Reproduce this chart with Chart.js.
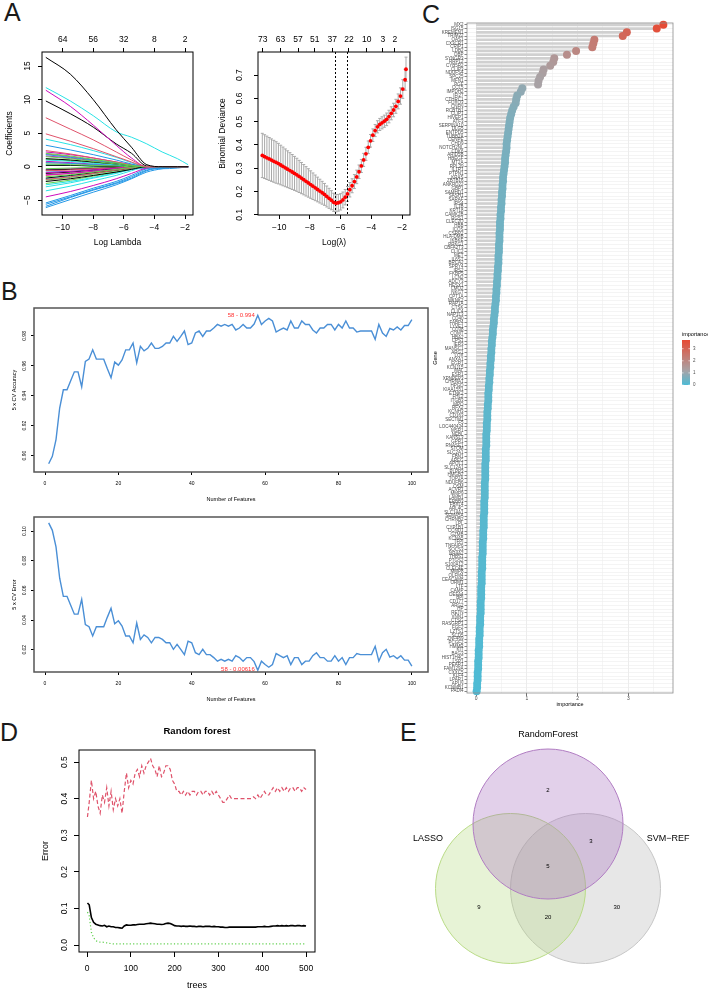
<!DOCTYPE html>
<html>
<head>
<meta charset="utf-8">
<title>Feature selection</title>
<script src="https://cdn.jsdelivr.net/npm/chart.js"></script>
<style>
  html, body { margin: 0; padding: 0; background: #fff; }
  body { position: relative; width: 708px; height: 991px; overflow: hidden; font-family: 'Liberation Sans', Arial, sans-serif; }
  canvas { position: absolute; }
  .tag { position: absolute; font-size: 25px; line-height: 25px; color: #1a1a1a; }
</style>
</head>
<body>
<div class="tag" style="left:4px;top:0px">A</div>
<div class="tag" style="left:1px;top:279px">B</div>
<div class="tag" style="left:422px;top:2px">C</div>
<div class="tag" style="left:0px;top:720px">D</div>
<div class="tag" style="left:400px;top:720px">E</div>

<canvas id="a1" width="200" height="225" style="left:0;top:28px"></canvas>
<canvas id="a2" width="205" height="225" style="left:208px;top:28px"></canvas>
<canvas id="b1" width="432" height="210" style="left:0;top:296px"></canvas>
<canvas id="b2" width="432" height="200" style="left:0;top:505px"></canvas>
<canvas id="c" width="278" height="700" style="left:430px;top:15px"></canvas>
<canvas id="d" width="330" height="276" style="left:0;top:715px"></canvas>
<canvas id="e" width="298" height="271" style="left:410px;top:720px"></canvas>

<script>
// ---------- A left: LASSO coefficient paths ----------
const a1LogLambda = [-11.1, -9.5, -8, -6.5, -5.5, -4.5, -3.5, -2.5, -1.8];
const a1Paths = [
  [16.3, 13.8, 10.0, 5.5, 2.9, 0.3, 0, 0, 0],
  [7.3, 5.6, 4.0, 2.2, 1.0, 0, 0, 0, 0],
  [2.0, 1.6, 1.1, 0.6, 0.2, 0, 0, 0, 0],
  [-5.9, -4.6, -3.5, -2.5, -1.7, -0.6, -0.1, 0, 0],
  [11.8, 9.8, 7.6, 5.2, 4.4, 3.4, 2.2, 1.2, 0.3],
  [11.4, 9.0, 6.2, 3.2, 1.3, 0, 0, 0, 0],
  [9.8, 7.9, 5.9, 3.4, 2.0, 0.1, 0, 0, 0],
  [4.9, 3.8, 2.7, 1.5, 0.7, 0, 0, 0, 0],
  [1.5, 1.2, 0.8, 0.4, 0.1, 0, 0, 0, 0],
  [3.2, 2.5, 1.8, 1.0, 0.4, 0, 0, 0, 0],
  [4.1, 3.3, 2.4, 1.4, 0.6, 0, 0, 0, 0],
  [-4.5, -3.7, -2.8, -1.8, -1.0, -0.2, 0, 0, 0],
  [-2.2, -1.8, -1.3, -0.8, -0.4, 0, 0, 0, 0],
  [2.4, 1.9, 1.3, 0.7, 0.3, 0, 0, 0, 0],
  [-1.5, -1.2, -0.8, -0.4, -0.1, 0, 0, 0, 0],
  [-5.4, -4.3, -3.2, -2.2, -1.3, -0.3, 0, 0, 0],
  [-3.6, -2.9, -2.1, -1.3, -0.6, 0, 0, 0, 0],
  [2.2, 1.8, 1.3, 0.7, 0.3, 0, 0, 0, 0],
  [1.2, 1.0, 0.7, 0.4, 0.1, 0, 0, 0, 0],
  [-1.9, -1.5, -1.0, -0.5, -0.2, 0, 0, 0, 0],
  [0.4, 0.3, 0.2, 0.1, 0, 0, 0, 0, 0],
  [1.8, 1.4, 1.0, 0.5, 0.2, 0, 0, 0, 0],
  [-3.0, -2.4, -1.7, -1.0, -0.4, 0, 0, 0, 0],
  [-0.9, -0.7, -0.5, -0.2, 0, 0, 0, 0, 0],
  [0.2, 0.2, 0.1, 0.05, 0, 0, 0, 0, 0],
  [-0.6, -0.5, -0.3, -0.2, 0, 0, 0, 0, 0],
  [-2.5, -2.0, -1.4, -0.8, -0.3, 0, 0, 0, 0],
  [-6.1, -4.9, -3.8, -2.7, -1.8, -0.8, -0.3, 0, 0],
  [1.0, 0.8, 0.5, 0.3, 0.1, 0, 0, 0, 0],
  [-1.2, -1.0, -0.7, -0.4, -0.1, 0, 0, 0, 0],
  [-1.7, -1.3, -0.9, -0.5, -0.2, 0, 0, 0, 0],
  [1.9, 1.5, 1.0, 0.5, 0.2, 0, 0, 0, 0],
  [-0.3, -0.2, -0.1, 0, 0, 0, 0, 0, 0],
  [0.6, 0.5, 0.3, 0.2, 0, 0, 0, 0, 0],
  [-2.7, -2.2, -1.6, -0.9, -0.4, 0, 0, 0, 0],
  [0.8, 0.6, 0.4, 0.2, 0, 0, 0, 0, 0],
  [-0.5, -0.4, -0.3, -0.1, 0, 0, 0, 0, 0],
  [0.6, 0.5, 0.3, 0.1, 0, 0, 0, 0, 0],
  [-2.0, -1.6, -1.1, -0.6, -0.2, 0, 0, 0, 0],
  [-5.6, -4.5, -3.4, -2.4, -1.5, -0.5, -0.2, 0, 0],
  [0.3, 0.2, 0.1, 0, 0, 0, 0, 0, 0],
  [-0.4, -0.3, -0.2, 0, 0, 0, 0, 0, 0],
  [-1.0, -0.8, -0.5, -0.3, 0, 0, 0, 0, 0],
  [-1.3, -1.0, -0.7, -0.4, -0.1, 0, 0, 0, 0],
  [1.1, 0.9, 0.6, 0.3, 0.1, 0, 0, 0, 0],
  [-0.8, -0.7, -0.5, -0.4, -0.3, -0.3, -0.3, -0.2, 0],
  [-1.8, -1.4, -1.0, -0.6, -0.2, 0, 0, 0, 0],
  [1.6, 1.3, 0.9, 0.5, 0.2, 0, 0, 0, 0]
];
const a1TopAt = [-10, -8, -6, -4, -2];
const a1TopCount = ['64', '56', '32', '8', '2'];

// ---------- A right: cross-validated binomial deviance ----------
const a2LogLambda = [
  -11.10, -10.95, -10.80, -10.65, -10.50, -10.35, -10.20, -10.05, -9.90, -9.75,
  -9.60, -9.45, -9.30, -9.15, -9.00, -8.85, -8.70, -8.55, -8.40, -8.25,
  -8.10, -7.95, -7.80, -7.65, -7.50, -7.35, -7.20, -7.05, -6.90, -6.75,
  -6.60, -6.45, -6.30, -6.15, -6.00, -5.85, -5.70, -5.55, -5.40, -5.25,
  -5.10, -4.95, -4.80, -4.65, -4.50, -4.35, -4.20, -4.05, -3.90, -3.75,
  -3.60, -3.45, -3.30, -3.15, -3.00, -2.85, -2.70, -2.55, -2.40, -2.25,
  -2.10, -1.95, -1.80, -1.74
];
const a2Deviance = [
  0.355, 0.350, 0.345, 0.340, 0.335, 0.330, 0.325, 0.320, 0.314, 0.308,
  0.302, 0.296, 0.290, 0.284, 0.278, 0.272, 0.265, 0.258, 0.251, 0.244,
  0.237, 0.230, 0.223, 0.216, 0.209, 0.202, 0.195, 0.188, 0.179, 0.171,
  0.163, 0.154, 0.150, 0.152, 0.156, 0.164, 0.176, 0.190, 0.208, 0.225,
  0.243, 0.263, 0.285, 0.310, 0.336, 0.362, 0.390, 0.418, 0.442, 0.462,
  0.478, 0.488, 0.495, 0.502, 0.510, 0.522, 0.536, 0.550, 0.566, 0.587,
  0.610, 0.640, 0.680, 0.725
];
const a2Se = [
  0.095, 0.094, 0.093, 0.092, 0.091, 0.090, 0.089, 0.087, 0.085, 0.083,
  0.081, 0.079, 0.077, 0.075, 0.073, 0.071, 0.069, 0.067, 0.065, 0.063,
  0.061, 0.059, 0.057, 0.055, 0.053, 0.051, 0.049, 0.047, 0.045, 0.043,
  0.041, 0.039, 0.037, 0.036, 0.035, 0.034, 0.033, 0.032, 0.031, 0.030,
  0.030, 0.029, 0.029, 0.028, 0.028, 0.028, 0.027, 0.027, 0.027, 0.026,
  0.026, 0.026, 0.026, 0.026, 0.027, 0.027, 0.028, 0.029, 0.030, 0.032,
  0.035, 0.040, 0.045, 0.052
];
const a2TopAt = [-11.07, -9.91, -8.77, -7.69, -6.54, -5.46, -4.30, -3.25, -2.46];
const a2TopCount = ['73', '63', '57', '51', '37', '22', '10', '3', '2'];
const a2LambdaMin = -6.35;
const a2Lambda1se = -5.6;

// ---------- B: SVM-RFE, 5 x CV ----------
const bFeatures = [
  1, 2, 3, 4, 5, 6, 7, 8, 9, 10, 11, 12, 13, 14, 15, 16, 17, 18, 19, 20,
  21, 22, 23, 24, 25, 26, 27, 28, 29, 30, 31, 32, 33, 34, 35, 36, 37, 38, 39, 40,
  41, 42, 43, 44, 45, 46, 47, 48, 49, 50, 51, 52, 53, 54, 55, 56, 57, 58, 59, 60,
  61, 62, 63, 64, 65, 66, 67, 68, 69, 70, 71, 72, 73, 74, 75, 76, 77, 78, 79, 80,
  81, 82, 83, 84, 85, 86, 87, 88, 89, 90, 91, 92, 93, 94, 95, 96, 97, 98, 99, 100
];
const bAccuracy = [
  0.8945, 0.8995, 0.9107, 0.9318, 0.944, 0.944, 0.950, 0.956, 0.956, 0.946,
  0.963, 0.9645, 0.9707, 0.9645, 0.9645, 0.9645, 0.958, 0.952, 0.9625, 0.9605,
  0.964, 0.9707, 0.9707, 0.9753, 0.962, 0.973, 0.970, 0.9717, 0.9753, 0.9717,
  0.9717, 0.973, 0.9753, 0.9753, 0.9797, 0.9764, 0.9797, 0.9833, 0.9742, 0.9753,
  0.982, 0.9833, 0.9797, 0.9833, 0.9833, 0.9853, 0.9877, 0.9865, 0.9877, 0.9865,
  0.9877, 0.984, 0.9853, 0.9877, 0.9853, 0.9853, 0.988, 0.99384, 0.9877, 0.990,
  0.9918, 0.990, 0.9826, 0.984, 0.9853, 0.984, 0.990, 0.9853, 0.9853, 0.990,
  0.9877, 0.9877, 0.984, 0.982, 0.9853, 0.9853, 0.9877, 0.9877, 0.984, 0.9877,
  0.9853, 0.990, 0.9853, 0.9853, 0.9826, 0.9833, 0.9833, 0.9833, 0.9833, 0.9777,
  0.9877, 0.982, 0.9797, 0.985, 0.984, 0.986, 0.984, 0.987, 0.987, 0.991
];
const bError = [
  0.1055, 0.1005, 0.0893, 0.0682, 0.056, 0.056, 0.050, 0.044, 0.044, 0.054,
  0.037, 0.0355, 0.0293, 0.0355, 0.0355, 0.0355, 0.042, 0.048, 0.0375, 0.0395,
  0.036, 0.0293, 0.0293, 0.0247, 0.038, 0.027, 0.030, 0.0283, 0.0247, 0.0283,
  0.0283, 0.027, 0.0247, 0.0247, 0.0203, 0.0236, 0.0203, 0.0167, 0.0258, 0.0247,
  0.018, 0.0167, 0.0203, 0.0167, 0.0167, 0.0147, 0.0123, 0.0135, 0.0123, 0.0135,
  0.0123, 0.016, 0.0147, 0.0123, 0.0147, 0.0147, 0.012, 0.00616, 0.0123, 0.010,
  0.0082, 0.010, 0.0174, 0.016, 0.0147, 0.016, 0.010, 0.0147, 0.0147, 0.010,
  0.0123, 0.0123, 0.016, 0.018, 0.0147, 0.0147, 0.0123, 0.0123, 0.016, 0.0123,
  0.0147, 0.010, 0.0147, 0.0147, 0.0174, 0.0167, 0.0167, 0.0167, 0.0167, 0.0223,
  0.0123, 0.018, 0.0203, 0.015, 0.016, 0.014, 0.016, 0.013, 0.013, 0.009
];
const bBest = 58;

// ---------- C: random forest gene importance ----------
const cGenes = [
  'MX2', 'ISG15', 'KREMEN1', 'TRIM22', 'OAS1', 'CX3CR1', 'CRIP1', 'LDB2', 'DBP', 'SYNGR3',
  'RRP12', 'CYB5R2', 'CLIP3', 'NDUFS4', 'SPC25', 'MFN1', 'PGF', 'CCL5', 'IMPDH2', 'IFI27',
  'CTHRC1', 'FOXO3', 'CNFN', 'RCBTB1', 'CLIP1', 'HIVEP1', 'ATF3', 'SERPINA10', 'DLG5', 'ENTPD5',
  'TUBB2A', 'CENPE', 'CHD9', 'NOTCH2NL', 'CDK6', 'ARID5B', 'HBEGF', 'MT2A', 'RPL39', 'IL1R1',
  'PTPN1', 'KRAS', 'ZBTB16', 'ANKRD22', 'GBP1', 'SAMHD1', 'SASH1', 'SARAF', 'IRS4', 'IL1B',
  'KRT18', 'CAMK2B', 'RGS1', 'CLEC2D', 'HBB', 'ICOS', 'CSRP2', 'HLA-DMB', 'IKBKE', 'PRKG1',
  'CBFA2T3', 'CLIC2', 'MET', 'IL6ST', 'BRCA2', 'SPRY4', 'IRS2', 'FKBP5', 'LCN2', 'ADCY3',
  'HESX1', 'LMO2', 'NKG7', 'CPT1A', 'MKNK2', 'RAP1A', 'CTSK', 'CLIC4', 'NAP1L3', 'CD40',
  'FABP4', 'LYVE1', 'CD38', 'COMT', 'HBA2', 'CPS1', 'IER3', 'MANSC1', 'ARG1', 'LOX',
  'ANXA1', 'EGR1', 'KCNJ15', 'MAL', 'ESR1', 'XPNPEP3', 'CHRNA1', 'HPGD', 'KIAA1551', 'ETNK2',
  'FHL2', 'ITGB3', 'MPO', 'RFX2', 'KCNH3', 'CD163', 'SECTM1', 'F5', 'LOC440434', 'MSR1',
  'NEBL', 'KANSL3', 'GPR1', 'RNASE1', 'STOM', 'SLC2A1', 'FBN1', 'AREG', 'APOL1', 'SLC12A1',
  'PLPP3', 'HMGB2', 'TOP2A', 'NDUFB6', 'OSM', 'ACVR1', 'MMP9', 'LAMB1', 'ERBB3', 'FBXL4',
  'ARL4C', 'SLC14A1', 'SEMA5A', 'CHRNB2', 'LPL', 'CYP1B1', 'CCND1', 'GZMB', 'KCNA5', 'TFPI',
  'TNFAIP6', 'SOCS3', 'NR4A2', 'THBS1', 'PTGS2', 'S100A12', 'CLEC4E', 'MMP8', 'OLFM4', 'CEACAM8',
  'ORM1', 'LTF', 'CAMP', 'DEFA4', 'BPI', 'CD177', 'ARG2', 'HP', 'RETN', 'VNN1',
  'CTSG', 'RASGRP1', 'FGF2', 'LZTS1', 'SCD5', 'ZNF469', 'PCGF2', 'HMMR', 'KIT', 'BAG3',
  'HIST1H4C', 'LSP1', 'PEAR1', 'FAM129A', 'CXXC5', 'KLF4', 'LPAR1', 'APLN', 'KCNMB1', 'PADI4'
];
const cImportance = [
  3.69, 3.56, 2.97, 2.89, 2.33, 2.31, 2.29, 1.97, 1.79, 1.54,
  1.52, 1.46, 1.33, 1.31, 1.26, 1.23, 1.22, 0.91, 0.88, 0.81,
  0.79, 0.78, 0.74, 0.71, 0.69, 0.67, 0.66, 0.65, 0.64, 0.63,
  0.62, 0.61, 0.60, 0.60, 0.59, 0.58, 0.57, 0.57, 0.56, 0.55,
  0.54, 0.53, 0.53, 0.52, 0.52, 0.51, 0.51, 0.50, 0.50, 0.49,
  0.49, 0.48, 0.48, 0.47, 0.47, 0.47, 0.46, 0.46, 0.46, 0.45,
  0.45, 0.45, 0.44, 0.44, 0.44, 0.43, 0.43, 0.42, 0.42, 0.41,
  0.41, 0.40, 0.40, 0.39, 0.39, 0.38, 0.37, 0.37, 0.36, 0.35,
  0.35, 0.34, 0.33, 0.33, 0.32, 0.31, 0.31, 0.30, 0.30, 0.29,
  0.29, 0.28, 0.28, 0.27, 0.27, 0.26, 0.26, 0.25, 0.25, 0.24,
  0.24, 0.24, 0.23, 0.23, 0.22, 0.22, 0.22, 0.21, 0.21, 0.21,
  0.20, 0.20, 0.20, 0.20, 0.19, 0.19, 0.19, 0.19, 0.18, 0.18,
  0.18, 0.18, 0.18, 0.17, 0.17, 0.17, 0.17, 0.17, 0.16, 0.16,
  0.16, 0.16, 0.15, 0.15, 0.15, 0.15, 0.14, 0.14, 0.14, 0.13,
  0.13, 0.13, 0.13, 0.12, 0.12, 0.12, 0.12, 0.11, 0.11, 0.11,
  0.11, 0.10, 0.10, 0.10, 0.10, 0.09, 0.09, 0.09, 0.09, 0.08,
  0.08, 0.08, 0.07, 0.07, 0.07, 0.06, 0.06, 0.06, 0.05, 0.05,
  0.05, 0.04, 0.04, 0.04, 0.03, 0.03, 0.03, 0.02, 0.02, 0.01
];

// ---------- D: random forest error vs trees ----------
const dTrees = [
  1, 5, 10, 15, 20, 25, 30, 35, 40, 45, 50, 55, 60, 65, 70, 75, 80, 85, 90, 95, 100,
  105, 110, 115, 120, 125, 130, 135, 140, 145, 150, 155, 160, 165, 170, 175, 180, 185, 190, 195, 200,
  205, 210, 215, 220, 225, 230, 235, 240, 245, 250, 255, 260, 265, 270, 275, 280, 285, 290, 295, 300,
  305, 310, 315, 320, 325, 330, 335, 340, 345, 350, 355, 360, 365, 370, 375, 380, 385, 390, 395, 400,
  405, 410, 415, 420, 425, 430, 435, 440, 445, 450, 455, 460, 465, 470, 475, 480, 485, 490, 495, 500
];
const dOOB = [
  0.115,
  0.110, 0.075, 0.062, 0.057, 0.055, 0.053, 0.052, 0.054, 0.050, 0.052,
  0.050, 0.050, 0.048, 0.048, 0.047, 0.046, 0.052, 0.055, 0.054, 0.054,
  0.055, 0.055, 0.056, 0.057, 0.057, 0.057, 0.058, 0.059, 0.060, 0.059,
  0.058, 0.057, 0.057, 0.056, 0.057, 0.059, 0.060, 0.059, 0.056, 0.053,
  0.052, 0.052, 0.051, 0.052, 0.051, 0.051, 0.052, 0.051, 0.051, 0.050,
  0.051, 0.051, 0.050, 0.051, 0.051, 0.051, 0.050, 0.051, 0.050, 0.050,
  0.049, 0.049, 0.048, 0.048, 0.049, 0.049, 0.049, 0.049, 0.049, 0.049,
  0.049, 0.049, 0.049, 0.049, 0.049, 0.049, 0.049, 0.050, 0.050, 0.050,
  0.051, 0.050, 0.050, 0.051, 0.052, 0.052, 0.053, 0.052, 0.053, 0.052,
  0.053, 0.052, 0.053, 0.053, 0.052, 0.053, 0.053, 0.052, 0.053, 0.052
];
const dErrPos = [
  0.35,
  0.39, 0.45, 0.40, 0.42, 0.38, 0.36, 0.41, 0.39, 0.43, 0.38,
  0.42, 0.37, 0.40, 0.38, 0.40, 0.36, 0.42, 0.47, 0.43, 0.45,
  0.44, 0.47, 0.48, 0.46, 0.49, 0.47, 0.49, 0.50, 0.51, 0.49,
  0.48, 0.46, 0.49, 0.46, 0.47, 0.49, 0.49, 0.48, 0.45, 0.44,
  0.42, 0.42, 0.41, 0.42, 0.41, 0.42, 0.41, 0.42, 0.42, 0.41,
  0.42, 0.42, 0.41, 0.42, 0.42, 0.41, 0.42, 0.41, 0.42, 0.41,
  0.40, 0.39, 0.39, 0.40, 0.41, 0.40, 0.40, 0.40, 0.40, 0.40,
  0.40, 0.40, 0.40, 0.40, 0.40, 0.405, 0.40, 0.41, 0.40, 0.41,
  0.42, 0.41, 0.41, 0.42, 0.43, 0.42, 0.43, 0.42, 0.43, 0.42,
  0.43, 0.42, 0.43, 0.43, 0.42, 0.43, 0.43, 0.42, 0.43, 0.425
];
const dErrNeg = [
  0.090,
  0.080, 0.035, 0.020, 0.012, 0.009, 0.008, 0.008, 0.007, 0.006, 0.005,
  0.004, 0.003, 0.003, 0.003, 0.003, 0.003, 0.003, 0.003, 0.003, 0.003,
  0.003, 0.003, 0.003, 0.003, 0.003, 0.003, 0.003, 0.003, 0.003, 0.003,
  0.003, 0.003, 0.003, 0.003, 0.003, 0.003, 0.003, 0.003, 0.003, 0.003,
  0.003, 0.003, 0.003, 0.003, 0.003, 0.003, 0.003, 0.003, 0.003, 0.003,
  0.003, 0.003, 0.003, 0.003, 0.003, 0.003, 0.003, 0.003, 0.003, 0.003,
  0.003, 0.003, 0.003, 0.003, 0.003, 0.003, 0.003, 0.003, 0.003, 0.003,
  0.003, 0.003, 0.003, 0.003, 0.003, 0.003, 0.003, 0.003, 0.003, 0.003,
  0.003, 0.003, 0.003, 0.003, 0.003, 0.003, 0.003, 0.003, 0.003, 0.003,
  0.003, 0.003, 0.003, 0.003, 0.003, 0.003, 0.003, 0.003, 0.003, 0.003
];

// ---------- E: overlap of the three methods ----------
const eSets = ['RandomForest', 'LASSO', 'SVM\u2212REF'];
const eRegionCounts = [2, 3, 5, 9, 20, 30]; // RF only, RF&SVM, all three, LASSO only, LASSO&SVM, SVM only

// ---------- shared setup ----------
const FF = "'Liberation Sans', Arial, sans-serif";
Chart.defaults.font.family = FF;
Chart.defaults.color = '#000';
Chart.defaults.animation = false;
Chart.defaults.events = [];
Chart.defaults.responsive = false;
Chart.defaults.layout.autoPadding = false;
Chart.defaults.plugins.legend.display = false;
Chart.defaults.plugins.tooltip.enabled = false;

const rPal = ['#000000', '#DF536B', '#61D04F', '#2297E6', '#28E2E5', '#CD0BBC'];

function fmtInt(v) { return String(Math.round(v * 1000) / 1000).replace('-', '\u2212'); }
function isWhole(v) { return Math.abs(v - Math.round(v)) < 1e-9; }

// blue -> grey -> red, like the ggplot gradient in C
function impColor(v) {
  const lo = [77, 187, 213], mid = [168, 163, 166], hi = [230, 75, 53];
  const m = 1.2, M = 3.7;
  let a, b, t;
  if (v <= m) { a = lo; b = mid; t = v / m; } else { a = mid; b = hi; t = Math.min(1, (v - m) / (M - m)); }
  const c = a.map((x, i) => Math.round(x + (b[i] - x) * t));
  return 'rgb(' + c.join(',') + ')';
}

// base R style axis: ticks outside, no grid
function rAxis(o) {
  const rot = o.rot || 0;
  return {
    type: 'linear',
    position: o.position || (o.vertical ? 'left' : 'bottom'),
    min: o.min, max: o.max,
    afterBuildTicks: o.at ? (s => { s.ticks = o.at.map(v => ({ value: v })); }) : undefined,
    ticks: {
      stepSize: o.step, includeBounds: false, font: { size: o.fs }, color: '#000',
      padding: o.pad, callback: o.fmt, minRotation: rot, maxRotation: rot,
      crossAlign: rot ? 'center' : 'near'
    },
    grid: { drawOnChartArea: false, drawTicks: true, tickLength: o.tl, color: '#000', lineWidth: 1 },
    border: { display: false },
    title: o.title ? { display: true, text: o.title, font: { size: o.tfs }, color: '#000', padding: o.tpad } : { display: false },
    afterFit: s => { if (s.isHorizontal()) s.height = o.size; else s.width = o.size; }
  };
}

const boxPlugin = {
  id: 'rbox',
  afterDatasetsDraw(chart, args, o) {
    if (!o.color) return;
    const a = chart.chartArea, c = chart.ctx;
    c.save();
    c.strokeStyle = o.color;
    c.lineWidth = o.width || 1;
    c.strokeRect(a.left, a.top, a.right - a.left, a.bottom - a.top);
    c.restore();
  }
};

const errBarPlugin = {
  id: 'errbars',
  beforeDatasetsDraw(chart) {
    const c = chart.ctx, ys = chart.scales.y;
    chart.data.datasets.forEach((ds, i) => {
      if (!ds.errSe) return;
      const meta = chart.getDatasetMeta(i);
      c.save();
      c.strokeStyle = '#A9A9A9';
      c.lineWidth = 1;
      meta.data.forEach((pt, j) => {
        const v = ds.data[j].y, e = ds.errSe[j];
        const y1 = ys.getPixelForValue(v + e), y2 = ys.getPixelForValue(v - e);
        c.beginPath();
        c.moveTo(pt.x, y1); c.lineTo(pt.x, y2);
        c.moveTo(pt.x - 1.5, y1); c.lineTo(pt.x + 1.5, y1);
        c.moveTo(pt.x - 1.5, y2); c.lineTo(pt.x + 1.5, y2);
        c.stroke();
      });
      c.restore();
    });
  }
};

const vlinePlugin = {
  id: 'vlines',
  beforeDatasetsDraw(chart, args, o) {
    if (!o.at) return;
    const a = chart.chartArea, c = chart.ctx, xs = chart.scales.x;
    c.save();
    c.strokeStyle = '#000';
    c.lineWidth = 1;
    c.setLineDash([2, 2]);
    o.at.forEach(v => {
      const x = Math.round(xs.getPixelForValue(v)) + 0.5;
      c.beginPath(); c.moveTo(x, a.top); c.lineTo(x, a.bottom); c.stroke();
    });
    c.restore();
  }
};

const notesPlugin = {
  id: 'notes',
  afterDatasetsDraw(chart, args, o) {
    if (!o.items) return;
    const c = chart.ctx, xs = chart.scales.x, ys = chart.scales.y, a = chart.chartArea;
    o.items.forEach(n => {
      const x = n.area ? (a.left + a.right) / 2 : xs.getPixelForValue(n.x);
      const y = n.area ? a.top : ys.getPixelForValue(n.y);
      c.save();
      c.font = (n.weight ? n.weight + ' ' : '') + n.size + 'px ' + FF;
      c.fillStyle = n.color || '#000';
      c.textAlign = n.align || 'center';
      c.textBaseline = 'middle';
      c.fillText(n.text, x + (n.dx || 0), y + (n.dy || 0));
      c.restore();
    });
  }
};

const colorbarPlugin = {
  id: 'colorbar',
  afterDraw(chart, args, o) {
    if (!o.title) return;
    const c = chart.ctx;
    const g = c.createLinearGradient(0, o.bottom, 0, o.top);
    for (let k = 0; k <= 20; k++) g.addColorStop(k / 20, impColor(o.max * k / 20));
    c.save();
    c.fillStyle = g;
    c.fillRect(o.x, o.top, o.w, o.bottom - o.top);
    c.textBaseline = 'middle';
    c.textAlign = 'left';
    c.font = '5.5px ' + FF;
    c.fillStyle = '#000';
    c.fillText(o.title, o.x, o.top - 6);
    c.font = '4.5px ' + FF;
    c.fillStyle = '#4D4D4D';
    c.strokeStyle = '#fff';
    c.lineWidth = 0.6;
    o.ticks.forEach(t => {
      const y = o.bottom - (o.bottom - o.top) * t / o.max;
      c.fillText(String(t), o.x + o.w + 3, y);
      c.beginPath();
      c.moveTo(o.x, y); c.lineTo(o.x + 1.6, y);
      c.moveTo(o.x + o.w - 1.6, y); c.lineTo(o.x + o.w, y);
      c.stroke();
    });
    c.restore();
  }
};

Chart.register(boxPlugin, errBarPlugin, vlinePlugin, notesPlugin, colorbarPlugin);

// ---------- A left ----------
new Chart(document.getElementById('a1'), {
  type: 'line',
  data: {
    datasets: a1Paths.map((p, i) => ({
      data: p.map((v, j) => ({ x: a1LogLambda[j], y: v })),
      borderColor: rPal[i % 6], borderWidth: 1, pointRadius: 0,
      cubicInterpolationMode: 'monotone'
    }))
  },
  options: {
    layout: { padding: { top: 0, right: 7, bottom: 0, left: 0 } },
    scales: {
      x: rAxis({ min: -11.35, max: -1.48, step: 2, fs: 8.5, pad: 4, tl: 4, fmt: fmtInt,
        title: 'Log Lambda', tfs: 8.5, tpad: { top: 0, bottom: 5 }, size: 38 }),
      xTop: rAxis({ position: 'top', min: -11.35, max: -1.48, at: a1TopAt, fs: 8.5, pad: 3, tl: 4,
        fmt: (v, i) => a1TopCount[i], size: 24 }),
      y: rAxis({ vertical: true, min: -7.2, max: 17.1, step: 5, fs: 8.5, rot: 90, pad: 5, tl: 4,
        fmt: fmtInt, title: 'Coefficients', tfs: 8.5, tpad: { top: 5, bottom: 0 }, size: 42 })
    },
    plugins: { rbox: { color: '#000', width: 1 } }
  }
});

// ---------- A right ----------
new Chart(document.getElementById('a2'), {
  type: 'line',
  data: {
    datasets: [{
      data: a2LogLambda.map((x, i) => ({ x: x, y: a2Deviance[i] })),
      errSe: a2Se,
      showLine: false, pointRadius: 1.9, pointBackgroundColor: '#FF0000', pointBorderWidth: 0
    }]
  },
  options: {
    layout: { padding: { top: 0, right: 3, bottom: 0, left: 0 } },
    scales: {
      x: rAxis({ min: -11.38, max: -1.48, step: 2, fs: 8.5, pad: 4, tl: 4, fmt: fmtInt,
        title: 'Log(\u03bb)', tfs: 8.5, tpad: { top: 0, bottom: 5 }, size: 38 }),
      xTop: rAxis({ position: 'top', min: -11.38, max: -1.48, at: a2TopAt, fs: 8.5, pad: 3, tl: 4,
        fmt: (v, i) => a2TopCount[i], size: 24 }),
      y: rAxis({ vertical: true, min: 0.0995, max: 0.799, step: 0.1, fs: 8.5, rot: 90, pad: 8, tl: 4,
        fmt: v => v.toFixed(1), title: 'Binomial Deviance', tfs: 8.5, tpad: { top: 10, bottom: 0 }, size: 50 })
    },
    plugins: {
      rbox: { color: '#000', width: 1 },
      vlines: { at: [a2LambdaMin, a2Lambda1se] }
    }
  }
});

// ---------- B top: accuracy ----------
new Chart(document.getElementById('b1'), {
  type: 'line',
  data: {
    datasets: [{
      data: bFeatures.map((n, i) => ({ x: n, y: bAccuracy[i] })),
      borderColor: '#4A8FD6', borderWidth: 1.4, pointRadius: 0, tension: 0
    }]
  },
  options: {
    layout: { padding: { top: 12, right: 4, bottom: 0, left: 0 } },
    scales: {
      x: rAxis({ min: -3, max: 104.4, step: 20, fs: 5, pad: 6, tl: 3, fmt: fmtInt,
        title: 'Number of Features', tfs: 5.5, tpad: { top: 0, bottom: 3 }, size: 34 }),
      y: rAxis({ vertical: true, min: 0.889, max: 0.9987, step: 0.02, fs: 5, rot: 90, pad: 2, tl: 3,
        fmt: v => v.toFixed(2), title: '5 x CV Accuracy', tfs: 5.5, tpad: { top: 11, bottom: 0 }, size: 34 })
    },
    plugins: {
      rbox: { color: '#555', width: 1.5 },
      notes: { items: [{ x: bBest, y: bAccuracy[bBest - 1], text: bBest + ' - ' + bAccuracy[bBest - 1].toFixed(3),
        align: 'right', dx: -3, size: 6, color: '#FF3030' }] }
    }
  }
});

// ---------- B bottom: error ----------
new Chart(document.getElementById('b2'), {
  type: 'line',
  data: {
    datasets: [{
      data: bFeatures.map((n, i) => ({ x: n, y: bError[i] })),
      borderColor: '#4A8FD6', borderWidth: 1.4, pointRadius: 0, tension: 0
    }]
  },
  options: {
    layout: { padding: { top: 12, right: 4, bottom: 0, left: 0 } },
    scales: {
      x: rAxis({ min: -3, max: 104.4, step: 20, fs: 5, pad: 5.5, tl: 3, fmt: fmtInt,
        title: 'Number of Features', tfs: 5.5, tpad: { top: 0, bottom: 2.7 }, size: 33 }),
      y: rAxis({ vertical: true, min: 0.005, max: 0.1095, step: 0.02, fs: 5, rot: 90, pad: 2, tl: 3,
        fmt: v => v.toFixed(2), title: '5 x CV Error', tfs: 5.5, tpad: { top: 11, bottom: 0 }, size: 34 })
    },
    plugins: {
      rbox: { color: '#555', width: 1.5 },
      notes: { items: [{ x: bBest, y: bError[bBest - 1], text: bBest + ' - ' + bError[bBest - 1],
        align: 'right', dx: -3, dy: -1, size: 6, color: '#FF3030' }] }
    }
  }
});

// ---------- C: lollipop of importance ----------
new Chart(document.getElementById('c'), {
  type: 'bar',
  data: {
    labels: cGenes,
    datasets: [
      {
        type: 'line', indexAxis: 'y', data: cImportance, showLine: false,
        pointRadius: 4, pointBorderWidth: 0,
        pointBackgroundColor: cImportance.map(impColor)
      },
      {
        type: 'bar', indexAxis: 'y', data: cImportance,
        backgroundColor: '#D0D0D0', barThickness: 2
      }
    ]
  },
  options: {
    indexAxis: 'y',
    layout: { padding: { top: 8, right: 35, bottom: 0, left: 0 } },
    scales: {
      x: {
        type: 'linear', min: -0.18, max: 3.88,
        ticks: { stepSize: 0.5, includeBounds: false, font: { size: 5 }, color: '#4D4D4D', padding: 0,
          callback: v => isWhole(v) ? String(Math.round(v)) : '' },
        grid: {
          color: ctx => (ctx.tick && isWhole(ctx.tick.value)) ? '#E4E4E4' : '#F1F1F1',
          tickColor: ctx => (ctx.tick && isWhole(ctx.tick.value)) ? '#333' : 'rgba(0,0,0,0)',
          tickLength: 3, lineWidth: 0.7
        },
        border: { display: false },
        title: { display: true, text: 'importance', font: { size: 5.5 }, color: '#000', padding: { top: 0, bottom: 7.7 } },
        afterFit: s => { s.height = 22; }
      },
      y: {
        type: 'category', offset: true,
        ticks: { autoSkip: false, font: { size: 4.5 }, color: '#4D4D4D', padding: 1 },
        grid: { offset: false, color: '#EDEDED', lineWidth: 0.6, tickColor: '#333', tickLength: 2.5 },
        border: { display: false },
        title: { display: true, text: 'Gene', font: { size: 5.5 }, color: '#000', padding: { top: 1.7, bottom: 0 } },
        afterFit: s => { s.width = 37; }
      }
    },
    plugins: {
      rbox: { color: '#8C8C8C', width: 0.8 },
      colorbar: { title: 'importance', x: 252, w: 8, top: 325, bottom: 370, max: 3.72, ticks: [0, 1, 2, 3] }
    }
  }
});

// ---------- D: random forest ----------
new Chart(document.getElementById('d'), {
  type: 'line',
  data: {
    datasets: [
      { data: dTrees.map((t, i) => ({ x: t, y: dOOB[i] })), borderColor: '#000', borderWidth: 1.6, pointRadius: 0 },
      { data: dTrees.map((t, i) => ({ x: t, y: dErrPos[i] })), borderColor: '#DF536B', borderWidth: 1.2,
        borderDash: [4, 2.5], pointRadius: 0 },
      { data: dTrees.map((t, i) => ({ x: t, y: dErrNeg[i] })), borderColor: '#61D04F', borderWidth: 1.2,
        borderDash: [1.2, 2.2], pointRadius: 0 }
    ]
  },
  options: {
    layout: { padding: { top: 35, right: 15, bottom: 0, left: 0 } },
    scales: {
      x: rAxis({ min: -18.3, max: 520.5, step: 100, fs: 8.5, pad: 6.5, tl: 5, fmt: fmtInt,
        title: 'trees', tfs: 9, tpad: { top: 0, bottom: 0 }, size: 39 }),
      y: rAxis({ vertical: true, min: -0.019, max: 0.533, step: 0.1, fs: 8.5, rot: 90, pad: 3, tl: 5,
        fmt: v => v.toFixed(1), title: 'Error', tfs: 9, tpad: { top: 40, bottom: 0 }, size: 79 })
    },
    plugins: {
      rbox: { color: '#000', width: 1 },
      notes: { items: [{ area: true, dy: -19, text: 'Random forest', size: 9.5, weight: 'bold' }] }
    }
  }
});

// ---------- E: Venn diagram ----------
const eLayout = [[0, 0.43], [-0.5, -0.43], [0.5, -0.43]];
const eFill = ['rgba(165,110,190,0.32)', 'rgba(175,215,120,0.30)', 'rgba(175,175,175,0.30)'];
const eLine = ['#B07CC2', '#B9DB86', '#C6C6C6'];
const eNameAt = [[0, 1.63], [-1.6, 0.23], [1.6, 0.23]];
const eCountAt = [[0, 0.874], [0.573, 0.194], [0, -0.139], [-0.92, -0.681], [0, -0.814], [0.916, -0.681]];

new Chart(document.getElementById('e'), {
  type: 'scatter',
  data: {
    datasets: eSets.map((s, i) => ({
      label: s,
      data: [{ x: eLayout[i][0], y: eLayout[i][1] }],
      pointRadius: 75, pointBackgroundColor: eFill[i], pointBorderColor: eLine[i], pointBorderWidth: 1,
      clip: false
    }))
  },
  options: {
    layout: { padding: 0, autoPadding: false },
    scales: {
      x: { type: 'linear', display: false, min: -1.84, max: 2.133 },
      y: { type: 'linear', display: false, min: -1.797, max: 1.817 }
    },
    plugins: {
      notes: {
        items: eSets.map((s, i) => ({ x: eNameAt[i][0], y: eNameAt[i][1], text: s, size: 9 }))
          .concat(eRegionCounts.map((n, i) => ({ x: eCountAt[i][0], y: eCountAt[i][1], text: String(n), size: 6 })))
      }
    }
  }
});
</script>
</body>
</html>
